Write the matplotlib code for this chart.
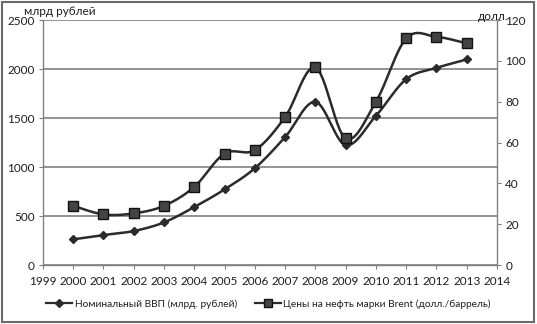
import numpy as np
import matplotlib
matplotlib.use("Agg")
import matplotlib.pyplot as plt
from matplotlib.patches import Rectangle

plt.rcParams["font.family"] = ["Lato", "DejaVu Sans"]

# data
years = [2000, 2001, 2002, 2003, 2004, 2005, 2006, 2007, 2008, 2009, 2010, 2011, 2012, 2013]
gdp = [262, 306, 347, 435, 592, 772, 988, 1306, 1665, 1224, 1523, 1897, 2012, 2098]
brent = [29.0, 24.8, 25.3, 29.0, 38.3, 54.6, 56.3, 72.5, 96.8, 62.0, 80.0, 111.0, 111.8, 108.6]

gdp_label = "Номинальный ВВП (млрд. рублей)"
brent_label = "Цены на нефть марки Brent (долл./баррель)"
left_ticks = [0, 500, 1000, 1500, 2000, 2500]
right_ticks = [0, 20, 40, 60, 80, 100, 120]
x_ticks = list(range(1999, 2015))

LINE = "#2b2b2b"
GRID = "#808080"
TEXT = "#1e1e1e"


def smooth(xs, ys, n=30):
    """Excel-style smoothed line: cubic Bezier segments, Catmull-Rom tangents."""
    x = np.asarray(xs, float)
    y = np.asarray(ys, float)
    px = np.concatenate([[x[0]], x, [x[-1]]])
    py = np.concatenate([[y[0]], y, [y[-1]]])
    t = np.linspace(0, 1, n)[:, None]
    out_x, out_y = [], []
    for i in range(1, len(px) - 2):
        p0 = np.array([px[i], py[i]])
        p3 = np.array([px[i + 1], py[i + 1]])
        c1 = p0 + (np.array([px[i + 1], py[i + 1]]) - np.array([px[i - 1], py[i - 1]])) / 6
        c2 = p3 - (np.array([px[i + 2], py[i + 2]]) - np.array([px[i], py[i]])) / 6
        seg = ((1 - t) ** 3) * p0 + 3 * ((1 - t) ** 2) * t * c1 + 3 * (1 - t) * t ** 2 * c2 + t ** 3 * p3
        out_x.append(seg[:, 0])
        out_y.append(seg[:, 1])
    return np.concatenate(out_x), np.concatenate(out_y)


fig = plt.figure(figsize=(5.37, 3.24), dpi=100)
ax = fig.add_axes([0.080, 0.182, 0.8455, 0.756])
ax2 = ax.twinx()

sx, sy = smooth(years, gdp)
ax.plot(sx, sy, color=LINE, lw=1.8, zorder=3)
ax.plot(years, gdp, ls="none", marker="D", ms=4.5, color=LINE, zorder=4)

sx, sy = smooth(years, brent)
ax2.plot(sx, sy, color=LINE, lw=1.8, zorder=3)
ax2.plot(years, brent, ls="none", marker="s", ms=6.5, color=LINE,
         mec="#111111", mfc="#444444", zorder=4)

ax.set_xlim(1999, 2014)
ax.set_ylim(0, 2500)
ax2.set_ylim(0, 120)
ax.set_xticks(x_ticks)
ax.set_yticks(left_ticks)
ax2.set_yticks(right_ticks)
ax.yaxis.grid(True, color=GRID, lw=1.2)
ax.set_axisbelow(True)

for a in (ax, ax2):
    a.spines["top"].set_visible(False)
    for s in a.spines.values():
        s.set_color(GRID)
        s.set_linewidth(1.0)
    a.tick_params(direction="out", length=3, width=0.8, color=GRID,
                  labelsize=8.5, labelcolor=TEXT, pad=3)
ax.tick_params(axis="x", pad=5)
ax.spines["right"].set_visible(False)
ax2.spines["left"].set_visible(False)
ax2.spines["bottom"].set_visible(False)

fig.text(0.045, 0.965, "млрд рублей", fontsize=8.5, color=TEXT, ha="left", va="center")
fig.text(0.890, 0.950, "долл.", fontsize=8.5, color=TEXT, ha="left", va="center")

handles = [
    plt.Line2D([], [], color=LINE, lw=1.6, marker="D", ms=4),
    plt.Line2D([], [], color=LINE, lw=1.6, marker="s", ms=6, mfc="#444444", mec="#111111"),
]
fig.legend(handles, [gdp_label, brent_label], loc="center", bbox_to_anchor=(0.5, 0.062),
           ncol=2, frameon=False, handlelength=2.6, handletextpad=0.2,
           columnspacing=1.8, labelcolor=TEXT, fontsize=7.3)

# outer frame of the chart area
fig.patches.append(Rectangle((0.004, 0.006), 0.99, 0.988, transform=fig.transFigure,
                             fill=False, ec="#6a6a6a", lw=1.5))

fig.savefig("out.png", dpi=100)
